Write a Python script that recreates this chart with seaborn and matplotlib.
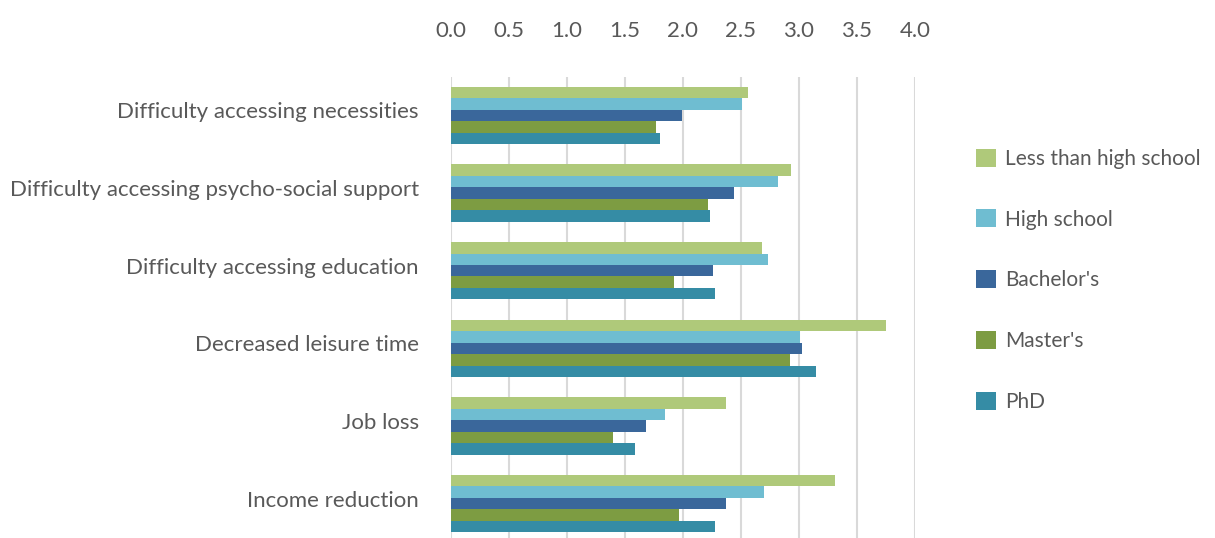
import pandas as pd
import seaborn as sns
import matplotlib.pyplot as plt
from matplotlib.transforms import ScaledTranslation

# data
categories = [
    "Difficulty accessing necessities",
    "Difficulty accessing psycho-social support",
    "Difficulty accessing education",
    "Decreased leisure time",
    "Job loss",
    "Income reduction",
]
levels = ["Less than high school", "High school", "Bachelor's", "Master's", "PhD"]
less_than_hs = [2.56, 2.93, 2.68, 3.75, 2.37, 3.31]
high_school = [2.51, 2.82, 2.73, 3.01, 1.85, 2.70]
bachelors = [1.99, 2.44, 2.26, 3.03, 1.68, 2.37]
masters = [1.77, 2.22, 1.92, 2.92, 1.40, 1.97]
phd = [1.80, 2.23, 2.28, 3.15, 1.59, 2.28]
colors = ["#AFC97A", "#6FBDD1", "#3A679B", "#7D9C42", "#358CA5"]

series = [less_than_hs, high_school, bachelors, masters, phd]
rows = []
for lvl, vals in zip(levels, series):
    for cat, v in zip(categories, vals):
        rows.append({"category": cat, "level": lvl, "value": v})
df = pd.DataFrame(rows)

sns.set_theme(style="white")
plt.rcParams['font.family'] = ["Lato", "DejaVu Sans"]

fig = plt.figure(figsize=(12.15, 5.38), dpi=100)
ax = fig.add_axes([0.371, -0.0084, 0.382, 0.866])

sns.barplot(data=df, y="category", x="value", hue="level",
            order=categories, hue_order=levels, palette=colors,
            saturation=1, orient="h", width=0.74, gap=0,
            edgecolor="none", ax=ax, errorbar=None)

ax.set_xlim(0, 4.0)
ax.set_ylim(len(categories) - 0.5, -0.5)
ax.set_xticks([i * 0.5 for i in range(9)])
ax.set_xticklabels([f"{i * 0.5:.1f}" for i in range(9)])
ax.xaxis.tick_top()
ax.tick_params(axis="x", length=0, pad=25.5, labelsize=16, labelcolor="#595959")
ax.tick_params(axis="y", length=0, pad=23, labelsize=16, labelcolor="#595959")
ax.grid(axis="x", color="#D9D9D9", linewidth=1.5)
ax.set_axisbelow(True)
for s in ax.spines.values():
    s.set_visible(False)
ax.set_xlabel("")
ax.set_ylabel("")

# category labels sit a little above the bar centres in the original
shift = ScaledTranslation(0, 5 / 100, fig.dpi_scale_trans)
for lab in ax.get_yticklabels():
    lab.set_transform(lab.get_transform() + shift)

handles, labels = ax.get_legend_handles_labels()
ax.legend(handles, labels, loc="center left", bbox_to_anchor=(0.788, 0.479),
          bbox_transform=fig.transFigure, frameon=False, fontsize=15,
          labelcolor="#595959", handlelength=0.95, handleheight=0.95,
          handletextpad=0.45, labelspacing=1.95)

fig.savefig("out.png", dpi=100)
